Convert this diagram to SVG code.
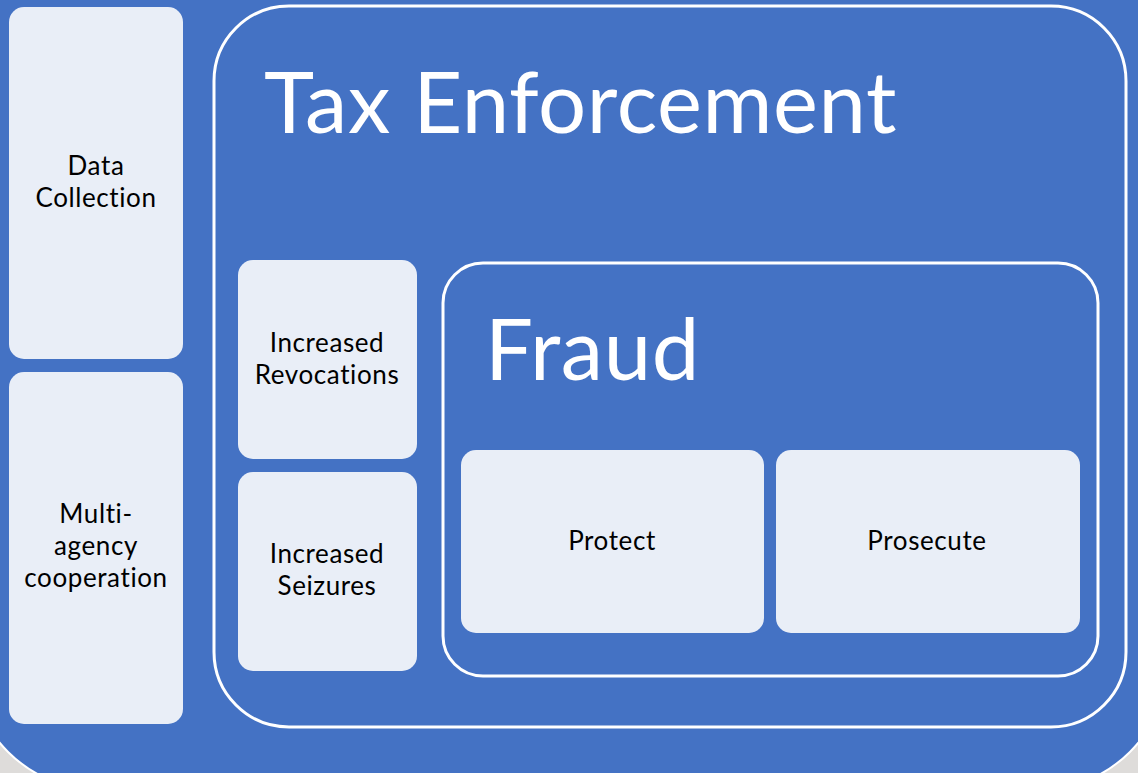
<svg xmlns="http://www.w3.org/2000/svg" width="1138" height="773" viewBox="0 0 1138 773">
<style>
.box{fill:#E9EEF7;}
.frame{fill:none;stroke:#FFFFFF;stroke-width:3;}
.lbl{font-family:Lato,"Open Sans",sans-serif;font-size:26px;letter-spacing:0.6px;fill:#000000;text-anchor:middle;font-variant-ligatures:none;}
.big{font-family:Lato,"Open Sans",sans-serif;font-size:85px;letter-spacing:0.6px;fill:#FFFFFF;font-variant-ligatures:none;}
</style>
<rect x="0" y="0" width="1138" height="773" fill="#DEDCDA"/>
<rect id="background" x="-30" y="-200" width="1198" height="990" rx="130" ry="130" fill="#4472C4" stroke="#FFFFFF" stroke-width="2"/>
<g id="data-collection">
<rect class="box" x="9" y="7" width="174" height="352" rx="15"/>
<text class="lbl" x="96" y="175">Data</text>
<text class="lbl" x="96" y="207">Collection</text>
</g>
<g id="multi-agency">
<rect class="box" x="9" y="372" width="174" height="352" rx="15"/>
<text class="lbl" x="96" y="523">Multi-</text>
<text class="lbl" x="96" y="555">agency</text>
<text class="lbl" x="96" y="587">cooperation</text>
</g>
<g id="tax-enforcement">
<rect class="frame" x="214" y="6" width="912" height="721" rx="75"/>
<text class="big" x="264" y="133">Tax Enforcement</text>
</g>
<g id="increased-revocations">
<rect class="box" x="238" y="260" width="179" height="199" rx="15"/>
<text class="lbl" x="327" y="352">Increased</text>
<text class="lbl" x="327" y="384">Revocations</text>
</g>
<g id="increased-seizures">
<rect class="box" x="238" y="472" width="179" height="199" rx="15"/>
<text class="lbl" x="327" y="563">Increased</text>
<text class="lbl" x="327" y="595">Seizures</text>
</g>
<g id="fraud">
<rect class="frame" x="443" y="263" width="655" height="413" rx="40"/>
<text class="big" x="485" y="380">Fraud</text>
</g>
<g id="protect">
<rect class="box" x="461" y="450" width="303" height="183" rx="15"/>
<text class="lbl" x="612" y="550">Protect</text>
</g>
<g id="prosecute">
<rect class="box" x="776" y="450" width="304" height="183" rx="15"/>
<text class="lbl" x="927" y="550">Prosecute</text>
</g>
<g id="connectors"></g>
</svg>
